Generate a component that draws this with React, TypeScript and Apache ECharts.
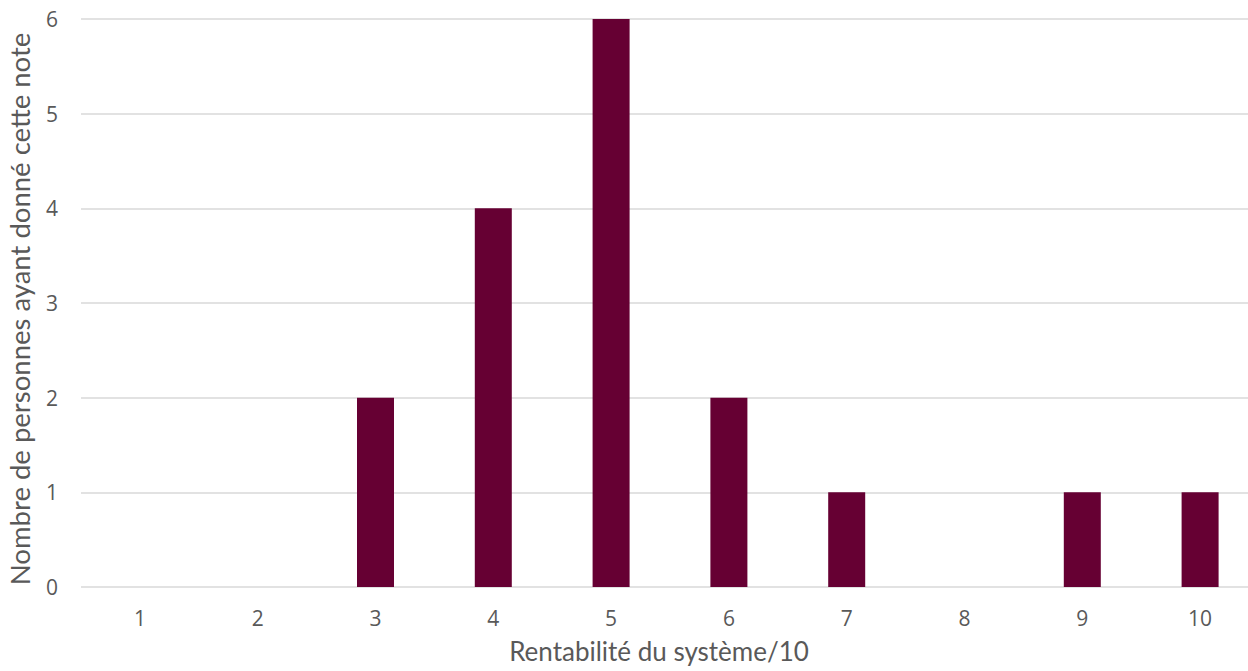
import React, { useEffect, useRef } from "react";
import * as echarts from "echarts";

const categories = ["1", "2", "3", "4", "5", "6", "7", "8", "9", "10"];
const counts = [0, 0, 2, 4, 6, 2, 1, 0, 1, 1];
const xTitle = "Rentabilité du système/10";
const yTitle = "Nombre de personnes ayant donné cette note";

export default function App() {
  const ref = useRef<HTMLDivElement>(null);
  useEffect(() => {
    if (!ref.current) return;
    const chart = echarts.init(ref.current, null, { renderer: "svg" });
    chart.setOption({
      animation: false,
      grid: { left: 81, right: 0, top: 19, bottom: 84, containLabel: false, outerBoundsMode: "none" },
      xAxis: {
        type: "category",
        data: categories,
        axisLine: { show: false },
        axisTick: { show: false },
        axisLabel: { color: "#595959", fontSize: 21, fontFamily: "Open Sans", margin: 20 },
        name: xTitle,
        nameLocation: "middle",
        nameGap: 51,
        nameTextStyle: { color: "#595959", fontSize: 26, fontFamily: "Lato", padding: [0, 22, 0, 0] },
      },
      yAxis: {
        type: "value",
        min: 0,
        max: 6,
        interval: 1,
        axisLine: { show: false },
        axisTick: { show: false },
        splitLine: { lineStyle: { color: "#d9d9d9", width: 1.5 } },
        axisLabel: { color: "#595959", fontSize: 21, fontFamily: "Open Sans", margin: 23 },
        name: yTitle,
        nameLocation: "middle",
        nameGap: 48,
        nameRotate: 90,
        nameTextStyle: { color: "#595959", fontSize: 27.5, fontFamily: "Lato", padding: [0, 12, 0, 0] },
      },
      series: [
        {
          type: "bar",
          data: counts,
          barWidth: 37,
          itemStyle: { color: "#660033" },
        },
      ],
    });
    return () => chart.dispose();
  }, []);
  return (
    <div style={{ position: "absolute", left: 0, top: 0, width: 1248, height: 671, overflow: "hidden" }}>
      <div ref={ref} style={{ width: 1259, height: 671 }} />
    </div>
  );
}
